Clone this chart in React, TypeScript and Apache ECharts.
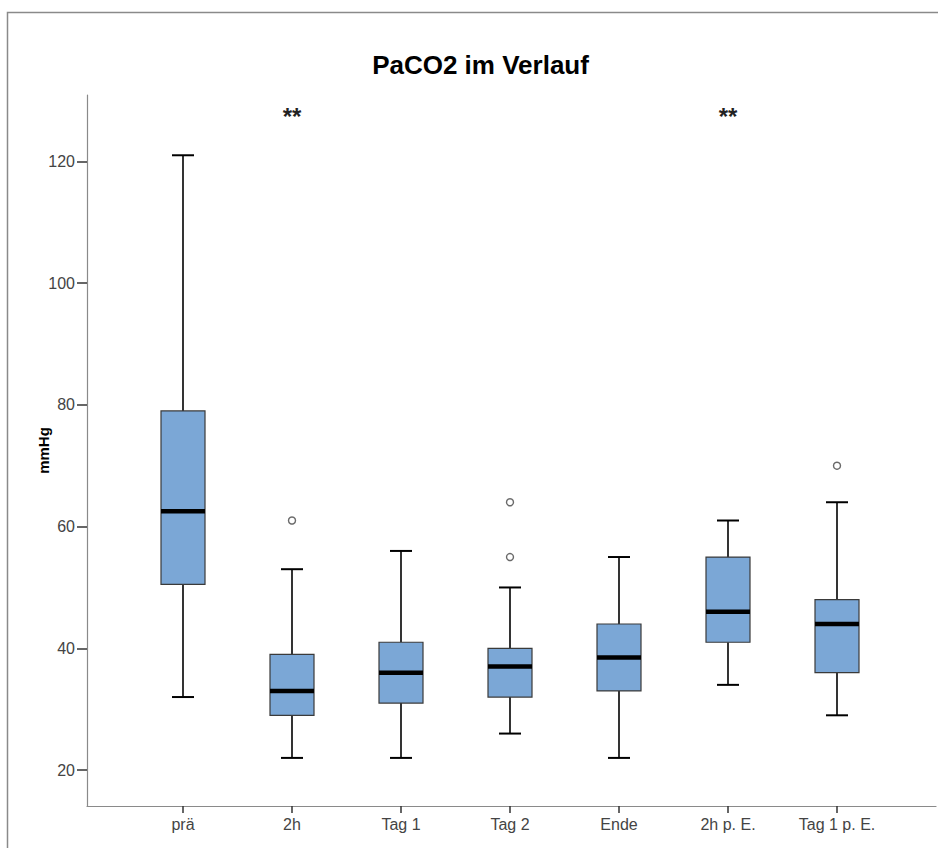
import React, { useEffect, useRef } from "react";
import * as echarts from "echarts";

const categories = ["prä", "2h", "Tag 1", "Tag 2", "Ende", "2h p. E.", "Tag 1 p. E."];
// [min, Q1, median, Q3, max]
const boxMin = [32, 22, 22, 26, 22, 34, 29];
const boxQ1 = [50.5, 29, 31, 32, 33, 41, 36];
const boxMedian = [62.5, 33, 36, 37, 38.5, 46, 44];
const boxQ3 = [79, 39, 41, 40, 44, 55, 48];
const boxMax = [121, 53, 56, 50, 55, 61, 64];
// outliers: [category index, value]
const outliers = [[1, 61], [3, 64], [3, 55], [6, 70]];
const significance = [[1, "**"], [5, "**"]];
const yTicks = [20, 40, 60, 80, 100, 120];
const title = "PaCO2 im Verlauf";
const yName = "mmHg";

const FONT = "'Liberation Sans', Arial, sans-serif";
const Y_MIN = 14.1;
const Y_MAX = 130.9;
const STAR_LEVEL = 127.3;

export default function App() {
  const ref = useRef<HTMLDivElement>(null);
  useEffect(() => {
    document.body.style.margin = "0";
    const chart = echarts.init(ref.current!, null, { renderer: "svg" });
    const boxData = categories.map((_, i) => [i, boxMin[i], boxQ1[i], boxMedian[i], boxQ3[i], boxMax[i]]);
    const option: any = {
      animation: false,
      backgroundColor: "#fff",
      textStyle: { fontFamily: FONT },
      graphic: [
        {
          type: "polyline",
          shape: { points: [[7.5, 860], [7.5, 12.5], [960, 12.5]] },
          style: { fill: "none", stroke: "#8a8a8a", lineWidth: 1.5 },
          silent: true,
        },
        {
          type: "text",
          x: 480.5,
          y: 65,
          style: {
            text: title,
            align: "center",
            verticalAlign: "middle",
            font: `bold 26px ${FONT}`,
            fill: "#000",
          },
        },
      ],
      grid: [
        { left: 87, right: 2, top: 95, bottom: 42 },
        { left: 128.5, width: 763, top: 95, bottom: 42 },
      ],
      xAxis: [
        {
          gridIndex: 0,
          type: "value",
          min: 0,
          max: 1,
          axisLine: { show: true, onZero: false, lineStyle: { color: "#8a8a8a", width: 1.2 } },
          axisTick: { show: false },
          axisLabel: { show: false },
          splitLine: { show: false },
        },
        {
          gridIndex: 1,
          type: "category",
          data: categories,
          axisLine: { show: false },
          axisTick: { show: true, alignWithLabel: true, length: 7, lineStyle: { color: "#333", width: 1.5 } },
          axisLabel: { margin: 10, fontSize: 16, color: "#444", fontFamily: FONT },
          splitLine: { show: false },
        },
      ],
      yAxis: [
        {
          gridIndex: 0,
          type: "value",
          min: Y_MIN,
          max: Y_MAX,
          axisLine: { show: true, onZero: false, lineStyle: { color: "#8a8a8a", width: 1.2 } },
          axisTick: { show: true, length: 10, customValues: yTicks, lineStyle: { color: "#333", width: 1.5 } },
          axisLabel: { customValues: yTicks, fontSize: 16, margin: 12, color: "#444", fontFamily: FONT },
          splitLine: { show: false },
          name: yName,
          nameLocation: "middle",
          nameGap: 36,
          nameMoveOverlap: false,
          nameTextStyle: { fontWeight: "bold", fontSize: 15, color: "#000", fontFamily: FONT },
        },
        { gridIndex: 1, type: "value", min: Y_MIN, max: Y_MAX, show: false },
      ],
      series: [
        {
          type: "custom",
          xAxisIndex: 1,
          yAxisIndex: 1,
          data: boxData,
          encode: { x: 0, y: [1, 2, 3, 4, 5] },
          renderItem: (params: any, api: any) => {
            const idx = api.value(0);
            const pMin = api.coord([idx, api.value(1)]);
            const pQ1 = api.coord([idx, api.value(2)]);
            const pMed = api.coord([idx, api.value(3)]);
            const pQ3 = api.coord([idx, api.value(4)]);
            const pMax = api.coord([idx, api.value(5)]);
            const x = pMin[0];
            const bw = 44;
            const cw = 22;
            const ws = { stroke: "#000", lineWidth: 1.6 };
            return {
              type: "group",
              children: [
                { type: "line", shape: { x1: x, y1: pMax[1], x2: x, y2: pQ3[1] }, style: ws },
                { type: "line", shape: { x1: x, y1: pQ1[1], x2: x, y2: pMin[1] }, style: ws },
                { type: "line", shape: { x1: x - cw / 2, y1: pMax[1], x2: x + cw / 2, y2: pMax[1] }, style: { stroke: "#000", lineWidth: 2 } },
                { type: "line", shape: { x1: x - cw / 2, y1: pMin[1], x2: x + cw / 2, y2: pMin[1] }, style: { stroke: "#000", lineWidth: 2 } },
                {
                  type: "rect",
                  shape: { x: x - bw / 2, y: pQ3[1], width: bw, height: pQ1[1] - pQ3[1] },
                  style: { fill: "#7BA7D6", stroke: "#3a3a3a", lineWidth: 1.2 },
                },
                { type: "line", shape: { x1: x - bw / 2, y1: pMed[1], x2: x + bw / 2, y2: pMed[1] }, style: { stroke: "#000", lineWidth: 4.5 } },
              ],
            };
          },
          z: 2,
        },
        {
          type: "scatter",
          xAxisIndex: 1,
          yAxisIndex: 1,
          data: outliers,
          symbol: "circle",
          symbolSize: 7,
          itemStyle: { color: "#fff", borderColor: "#444", borderWidth: 1.4 },
          z: 3,
        },
        {
          type: "custom",
          xAxisIndex: 1,
          yAxisIndex: 1,
          data: significance.map((s) => [s[0], STAR_LEVEL, s[1]]),
          encode: { x: 0, y: 1 },
          renderItem: (params: any, api: any) => {
            const p = api.coord([api.value(0), api.value(1)]);
            const txt = significance[params.dataIndex][1] as string;
            return {
              type: "text",
              x: p[0],
              y: p[1],
              style: {
                text: txt,
                align: "center",
                verticalAlign: "middle",
                font: `bold 24px ${FONT}`,
                fill: "#222",
              },
            };
          },
          z: 3,
        },
      ],
    };
    chart.setOption(option);
    return () => chart.dispose();
  }, []);
  return <div ref={ref} style={{ width: 938, height: 848 }} />;
}
